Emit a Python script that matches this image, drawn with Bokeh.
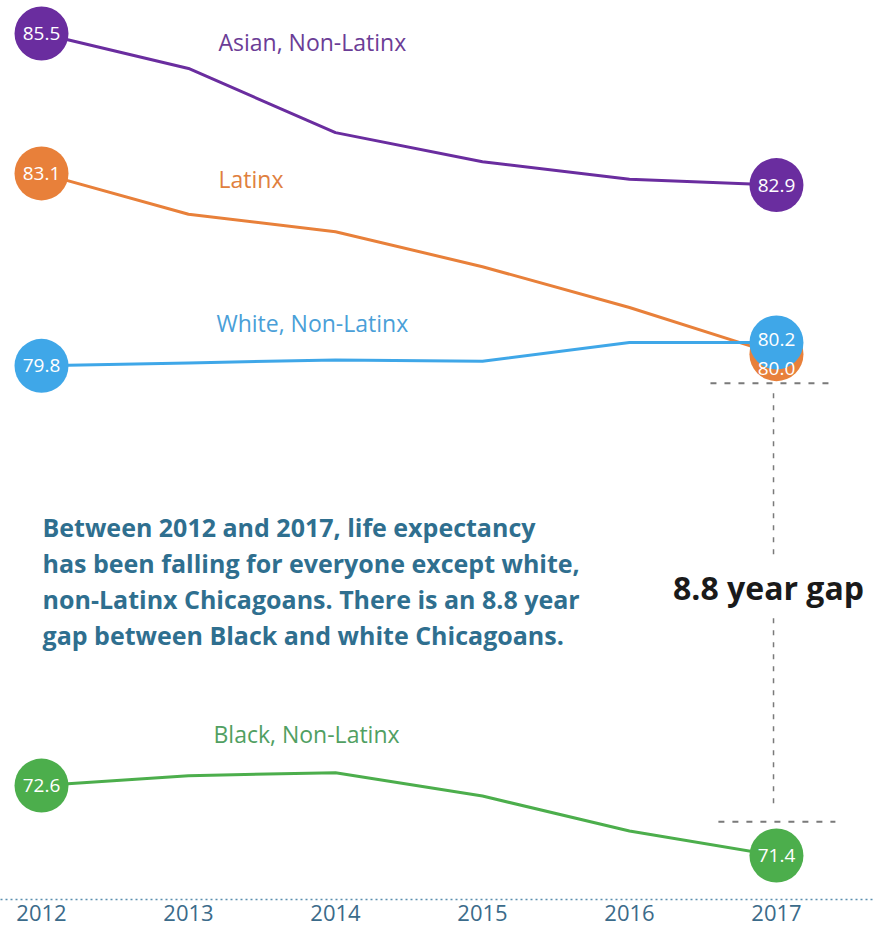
from bokeh.plotting import figure
from bokeh.models import ColumnDataSource, FixedTicker, Range1d
from bokeh.core.properties import value
from bokeh.embed import file_html
from bokeh.resources import INLINE

years = [2012, 2013, 2014, 2015, 2016, 2017]
asian = [85.5, 84.9, 83.8, 83.3, 83.0, 82.9]
latinx = [83.1, 82.4, 82.1, 81.5, 80.8, 80.0]
white = [79.8, 79.85, 79.9, 79.88, 80.2, 80.2]
black = [72.6, 72.77, 72.82, 72.42, 71.82, 71.4]

series_names = ["Asian, Non-Latinx", "Latinx", "White, Non-Latinx", "Black, Non-Latinx"]
series_vals = [asian, latinx, white, black]
series_colors = ["#6a2d9f", "#e8803a", "#3fa7e8", "#4cae4c"]
label_colors = ["#6b3d96", "#e0803e", "#4a9fd8", "#519f62"]
# pixel nudges for end-value labels (start, end) to keep overlapping labels legible
value_nudges = [(0, 0), (0, 14), (0, -3), (0, 0)]

caption = ("Between 2012 and 2017, life expectancy\n"
           "has been falling for everyone except white,\n"
           "non-Latinx Chicagoans. There is an 8.8 year\n"
           "gap between Black and white Chicagoans.")
gap_label = "8.8 year gap"

FONT = "Open Sans"

p = figure(frame_width=874, frame_height=899, min_border=0, min_border_bottom=29,
           x_range=Range1d(2011.721, 2017.667), y_range=Range1d(70.646, 86.066),
           output_backend="svg", toolbar_location=None,
           x_axis_location="below", y_axis_location=None)
p.outline_line_color = None
p.grid.visible = False
p.background_fill_color = "white"
p.border_fill_color = "white"

ax = p.xaxis[0]
ax.ticker = FixedTicker(ticks=years)
ax.axis_line_color = "#5b8fb0"
ax.axis_line_dash = "2 3"
ax.axis_line_width = 1.5
ax.major_tick_line_color = None
ax.minor_tick_line_color = None
ax.major_tick_out = 0
ax.major_tick_in = 0
ax.minor_tick_out = 0
ax.minor_tick_in = 0
ax.major_label_standoff = 5
ax.major_label_text_font = FONT
ax.major_label_text_font_size = "22px"
ax.major_label_text_color = "#3b6b8a"

# lines
for vals, col in zip(series_vals, series_colors):
    p.line(years, vals, line_color=col, line_width=3)

# gap bracket (annotation)
dash_col = "#7a7a7a"
p.line([2016.551, 2017.401], [79.50, 79.50], line_color=dash_col, line_width=2, line_dash="6 8")
p.line([2016.605, 2017.401], [71.98, 71.98], line_color=dash_col, line_width=2, line_dash="6 8")
p.line([2016.98, 2016.98], [79.33, 76.46], line_color=dash_col, line_width=1.5, line_dash="5 7")
p.line([2016.98, 2016.98], [75.47, 72.20], line_color=dash_col, line_width=1.5, line_dash="5 7")

# endpoint circles
for vals, col in zip(series_vals, series_colors):
    src = ColumnDataSource(dict(x=[years[0], years[-1]], y=[vals[0], vals[-1]]))
    p.scatter("x", "y", source=src, size=54, fill_color=col, line_color=None)

# endpoint values
for vals, nud in zip(series_vals, value_nudges):
    src = ColumnDataSource(dict(x=[years[0], years[-1]], y=[vals[0], vals[-1]],
                                t=["%.1f" % vals[0], "%.1f" % vals[-1]],
                                dy=list(nud)))
    p.text("x", "y", text="t", source=src, text_color="white", y_offset="dy",
           text_font=value(FONT), text_font_size="19px",
           text_align="center", text_baseline="middle")

# series labels
label_pos = [(2013.204, 85.35), (2013.204, 83.01), (2013.19, 80.54), (2013.17, 73.49)]
for name, (lx, ly), col in zip(series_names, label_pos, label_colors):
    p.text(x=[lx], y=[ly], text=[name], text_color=col, text_font=value(FONT),
           text_font_size="23px", text_align="left", text_baseline="middle")

# caption
p.text(x=[2012.007], y=[76.11], text=[caption], text_color="#2f6f8f",
       text_font=value(FONT), text_font_size="25px", text_font_style="bold",
       text_align="left", text_baseline="middle", text_line_height=1.06)

# gap label
p.text(x=[2016.946], y=[76.0], text=[gap_label], text_color="#1a1a1a",
       text_font=value(FONT), text_font_size="32px", text_font_style="bold",
       text_align="center", text_baseline="middle")

open("out.html", "w").write(file_html(p, INLINE))
